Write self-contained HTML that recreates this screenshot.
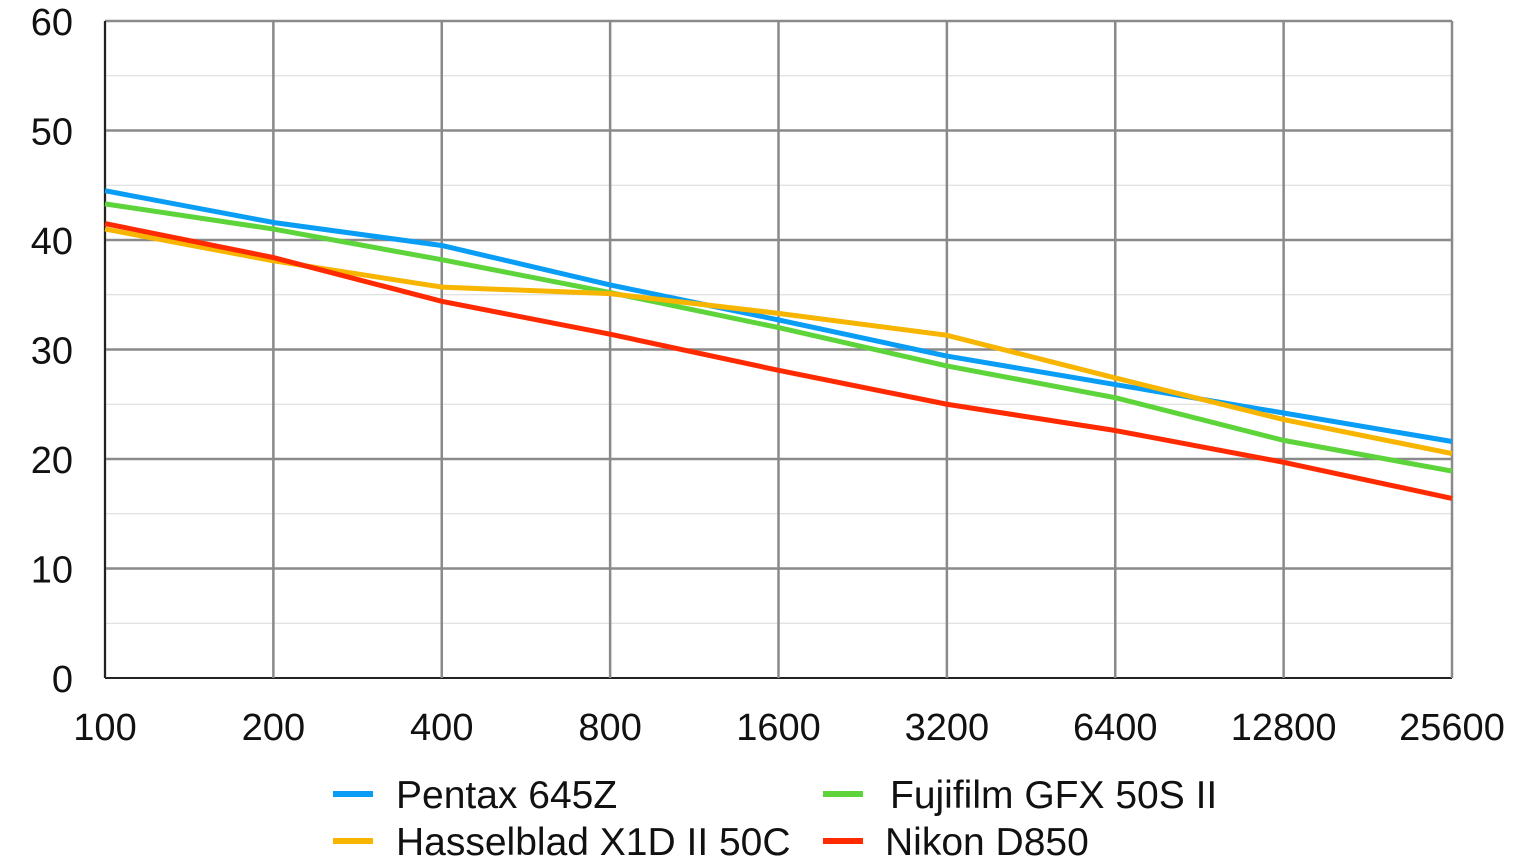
<!DOCTYPE html>
<html><head><meta charset="utf-8"><style>
html,body{margin:0;padding:0;background:#fff;width:1535px;height:863px;overflow:hidden}
svg text{font-family:"Liberation Sans",sans-serif;fill:#111}
</style></head><body>
<svg id="chart" width="1535" height="863" xmlns="http://www.w3.org/2000/svg"></svg>
<script>
const categories = ["100","200","400","800","1600","3200","6400","12800","25600"];
const yTicks = [0,10,20,30,40,50,60];
const seriesNames = ["Pentax 645Z","Hasselblad X1D II 50C","Fujifilm GFX 50S II","Nikon D850"];
const pentax = [44.5,41.6,39.5,35.9,32.7,29.4,26.8,24.2,21.6];
const hasselblad = [41.0,38.1,35.7,35.1,33.3,31.3,27.4,23.6,20.5];
const fujifilm = [43.3,41.0,38.2,35.2,32.0,28.5,25.6,21.7,18.9];
const nikon = [41.5,38.4,34.4,31.4,28.1,25.0,22.6,19.7,16.4];

const svg = document.getElementById('chart');
const NS = 'http://www.w3.org/2000/svg';
const X0=105, X1=1452, Y0=678, Y1=21;
const xS = i => X0 + i*(X1-X0)/(categories.length-1);
const yS = v => Y0 - v*(Y0-Y1)/60;
function mk(tag, attrs){const e=document.createElementNS(NS,tag);for(const k in attrs)e.setAttribute(k,attrs[k]);svg.appendChild(e);return e;}

for(let v=5; v<60; v+=10){
  const l=mk('line',{x1:X0,x2:X1,y1:yS(v),y2:yS(v),stroke:'#d8d8d8','stroke-width':1});
  
  
}
yTicks.forEach(v=>{
  const l=mk('line',{x1:X0,x2:X1,y1:yS(v),y2:yS(v),stroke:v===0?'#222':'#8a8a8a','stroke-width':v===0?2:2.5});
  
  
  const t=mk('text',{x:73,y:yS(v)+14,'text-anchor':'end','font-size':38});
  t.textContent=v;
  
  
});
categories.forEach((c,i)=>{
  const l=mk('line',{x1:xS(i),x2:xS(i),y1:Y1,y2:Y0,stroke:'#8a8a8a','stroke-width':2.5});
  
  
  const t=mk('text',{x:xS(i),y:740,'text-anchor':'middle','font-size':38});
  t.textContent=c;
  
  
});
const left=mk('line',{x1:X0,x2:X0,y1:Y1,y2:Y0,stroke:'#222','stroke-width':2});



const series=[[pentax,'#0a9df5'],[hasselblad,'#f7b500'],[fujifilm,'#5cd43a'],[nikon,'#ff2a00']];
const order=[0,2,1,3];
order.forEach(k=>{
  const [d,c]=series[k];
  const p=mk('polyline',{points:d.map((v,i)=>xS(i)+','+yS(v)).join(' '),fill:'none',stroke:c,'stroke-width':5,'stroke-linejoin':'round'});
  
  
});
const legPos=[[333,794],[333,841],[823,794],[823,841]];
const txtX=[396,396,890,885];
series.forEach(([d,c],k)=>{
  const [lx,ly]=legPos[k];
  const sw=mk('line',{x1:lx,x2:lx+40,y1:ly,y2:ly,stroke:c,'stroke-width':6});
  
  
  const t=mk('text',{x:txtX[k],y:ly+14,'font-size':39});
  t.textContent=seriesNames[k];
  
  
});
</script>
</body></html>
